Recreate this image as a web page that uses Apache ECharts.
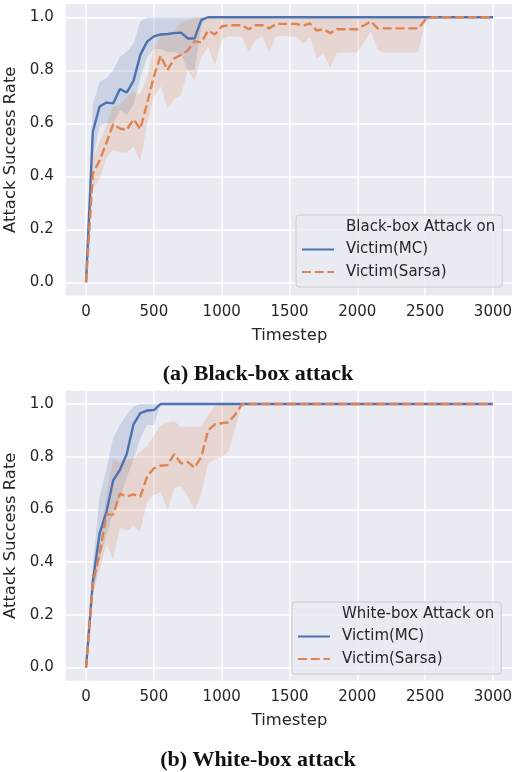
<!DOCTYPE html>
<html>
<head>
<meta charset="utf-8">
<script src="https://cdn.jsdelivr.net/npm/echarts@6/dist/echarts.min.js"></script>
<style>
html,body{margin:0;padding:0;background:#fff;}
#chart{width:512px;height:772px;}
</style>
</head>
<body>
<div id="chart"></div>
<script>
const timesteps = [0,50,100,150,200,250,300,350,400,450,
  500,550,600,650,700,750,800,850,900,950,
  1000,1050,1100,1150,1200,1250,1300,1350,1400,1450,
  1500,1550,1600,1650,1700,1750,1800,1850,1900,1950,
  2000,2050,2100,2150,2200,2250,2300,2350,2400,2450,
  2500,2550,2600,2650,2700,2750,2800,2850,2900,2950,
  3000];

// (a) Black-box attack
const blackMC = [0,0.568,0.663,0.678,0.675,0.729,0.716,0.76,0.858,0.908,
  0.928,0.935,0.937,0.94,0.942,0.92,0.92,0.99,1,1,
  1,1,1,1,1,1,1,1,1,1,
  1,1,1,1,1,1,1,1,1,1,
  1,1,1,1,1,1,1,1,1,1,
  1,1,1,1,1,1,1,1,1,1,
  1];
const blackMCLo = [0,0.46,0.59,0.6,0.6,0.65,0.63,0.67,0.77,0.85,
  0.88,0.88,0.87,0.87,0.86,0.8,0.8,0.97,1,1,
  1,1,1,1,1,1,1,1,1,1,
  1,1,1,1,1,1,1,1,1,1,
  1,1,1,1,1,1,1,1,1,1,
  1,1,1,1,1,1,1,1,1,1,
  1];
const blackMCHi = [0,0.67,0.757,0.77,0.8,0.85,0.87,0.9,0.985,1,
  1,1,1,1,1,1,1,1,1,1,
  1,1,1,1,1,1,1,1,1,1,
  1,1,1,1,1,1,1,1,1,1,
  1,1,1,1,1,1,1,1,1,1,
  1,1,1,1,1,1,1,1,1,1,
  1];
const blackSarsa = [0,0.41,0.46,0.525,0.597,0.58,0.575,0.615,0.578,0.675,
  0.776,0.855,0.80,0.845,0.858,0.875,0.91,0.905,0.95,0.935,
  0.965,0.97,0.97,0.97,0.955,0.97,0.97,0.958,0.975,0.975,
  0.975,0.975,0.969,0.977,0.95,0.955,0.94,0.955,0.955,0.955,
  0.955,0.97,0.984,0.958,0.958,0.958,0.958,0.958,0.958,0.958,
  0.99,1,1,1,1,1,1,1,1,1,
  1];
const blackSarsaLo = [0,0.35,0.39,0.47,0.5,0.49,0.49,0.51,0.455,0.6,
  0.70,0.74,0.657,0.69,0.707,0.80,0.76,0.85,0.89,0.82,
  0.915,0.927,0.927,0.927,0.867,0.915,0.927,0.867,0.927,0.93,
  0.927,0.927,0.9,0.923,0.845,0.86,0.81,0.865,0.867,0.867,
  0.867,0.905,0.946,0.877,0.867,0.867,0.867,0.867,0.867,0.867,
  0.98,1,1,1,1,1,1,1,1,1,
  1];
const blackSarsaHi = [0,0.47,0.53,0.595,0.663,0.67,0.70,0.715,0.71,0.776,
  0.88,0.93,0.94,0.95,0.98,0.99,1,1,1,1,
  1,1,1,1,1,1,1,1,1,1,
  1,1,1,1,1,1,1,1,1,1,
  1,1,1,1,1,1,1,1,1,1,
  1,1,1,1,1,1,1,1,1,1,
  1];

// (b) White-box attack
const whiteMC = [0,0.326,0.509,0.59,0.71,0.75,0.81,0.923,0.965,0.975,
  0.977,1,1,1,1,1,1,1,1,1,
  1,1,1,1,1,1,1,1,1,1,
  1,1,1,1,1,1,1,1,1,1,
  1,1,1,1,1,1,1,1,1,1,
  1,1,1,1,1,1,1,1,1,1,
  1];
const whiteMCLo = [0,0.28,0.41,0.5,0.59,0.64,0.72,0.79,0.87,0.92,
  0.92,1,1,1,1,1,1,1,1,1,
  1,1,1,1,1,1,1,1,1,1,
  1,1,1,1,1,1,1,1,1,1,
  1,1,1,1,1,1,1,1,1,1,
  1,1,1,1,1,1,1,1,1,1,
  1];
const whiteMCHi = [0,0.39,0.65,0.75,0.87,0.92,0.96,0.99,1,1,
  1,1,1,1,1,1,1,1,1,1,
  1,1,1,1,1,1,1,1,1,1,
  1,1,1,1,1,1,1,1,1,1,
  1,1,1,1,1,1,1,1,1,1,
  1,1,1,1,1,1,1,1,1,1,
  1];
const whiteSarsa = [0,0.32,0.43,0.58,0.58,0.66,0.648,0.657,0.648,0.724,
  0.756,0.766,0.768,0.81,0.775,0.78,0.758,0.80,0.90,0.923,
  0.927,0.93,0.96,1,1,1,1,1,1,1,
  1,1,1,1,1,1,1,1,1,1,
  1,1,1,1,1,1,1,1,1,1,
  1,1,1,1,1,1,1,1,1,1,
  1];
const whiteSarsaLo = [0,0.28,0.37,0.47,0.41,0.53,0.52,0.535,0.515,0.63,
  0.654,0.667,0.598,0.68,0.69,0.65,0.598,0.66,0.775,0.79,
  0.80,0.82,0.91,1,1,1,1,1,1,1,
  1,1,1,1,1,1,1,1,1,1,
  1,1,1,1,1,1,1,1,1,1,
  1,1,1,1,1,1,1,1,1,1,
  1];
const whiteSarsaHi = [0,0.36,0.5,0.65,0.79,0.78,0.79,0.79,0.82,0.84,
  0.88,0.92,0.93,0.935,0.914,0.914,0.914,0.914,0.96,0.99,
  1,1,1,1,1,1,1,1,1,1,
  1,1,1,1,1,1,1,1,1,1,
  1,1,1,1,1,1,1,1,1,1,
  1,1,1,1,1,1,1,1,1,1,
  1];

const xTicks = [0,500,1000,1500,2000,2500,3000];
const yTicks = [0,0.2,0.4,0.6,0.8,1.0];
const captions = ['(a) Black-box attack','(b) White-box attack'];
const legendTitles = ['Black-box Attack on','White-box Attack on'];
const seriesNames = ['Victim(MC)','Victim(Sarsa)'];

const BLUE = '#4C72B0', ORANGE = '#DD8452';
const BLUE_BAND = 'rgba(76,114,176,0.2)', ORANGE_BAND = 'rgba(221,132,82,0.2)';
const FONT = 'DejaVu Sans';

function pairs(arr){ return timesteps.map((t,i)=>[t,arr[i]]); }

const panels = [
  {mc:blackMC, mcLo:blackMCLo, mcHi:blackMCHi, sa:blackSarsa, saLo:blackSarsaLo, saHi:blackSarsaHi},
  {mc:whiteMC, mcLo:whiteMCLo, mcHi:whiteMCHi, sa:whiteSarsa, saLo:whiteSarsaLo, saHi:whiteSarsaHi}
];

const grids = [
  {left:65.7, top:4, width:447.6, height:291.5},
  {left:65.7, top:390.8, width:447.6, height:289.9}
];

const xAxes = grids.map((g,i)=>({
  type:'value', gridIndex:i, min:-150, max:3150,
  name:'Timestep', nameLocation:'middle', nameGap:32,
  nameTextStyle:{fontFamily:FONT, fontSize:16.4, color:'#262626'},
  axisLine:{show:false}, axisTick:{show:false, customValues:xTicks},
  axisLabel:{customValues:xTicks, margin:9, fontFamily:FONT, fontSize:15, color:'#262626',
    formatter:v=>String(v)},
  splitLine:{show:true, lineStyle:{color:'#ffffff', width:1.5}}
}));
const yAxes = grids.map((g,i)=>({
  type:'value', gridIndex:i, min:-0.05, max:1.05,
  name:'Attack Success Rate', nameLocation:'middle', nameGap:37,
  nameTextStyle:{fontFamily:FONT, fontSize:16.4, color:'#262626'},
  axisLine:{show:false}, axisTick:{show:false, customValues:yTicks},
  axisLabel:{customValues:yTicks, margin:12, fontFamily:FONT, fontSize:15, color:'#262626',
    formatter:v=>Number(v).toFixed(1)},
  splitLine:{show:true, lineStyle:{color:'#ffffff', width:1.5}}
}));

function bandSeries(i, lo, hi, color){
  return {
    type:'custom', xAxisIndex:i, yAxisIndex:i, silent:true, z:1,
    data: timesteps.map((t,k)=>[t, lo[k], hi[k]]),
    encode:{x:0, y:[1,2]},
    renderItem:(params, api)=>{
      if (params.dataIndex !== 0) return null;
      const upper = timesteps.map((t,k)=>api.coord([t, hi[k]]));
      const lower = timesteps.map((t,k)=>api.coord([t, lo[k]])).reverse();
      return {type:'polygon', shape:{points:upper.concat(lower)}, style:{fill:color, stroke:null}};
    }
  };
}

const series = [];
panels.forEach((p,i)=>{
  series.push(bandSeries(i, p.mcLo, p.mcHi, BLUE_BAND));
  series.push(bandSeries(i, p.saLo, p.saHi, ORANGE_BAND));
  series.push({type:'line', name:legendTitles[i], xAxisIndex:i, yAxisIndex:i, data:[],
    symbol:'none', lineStyle:{opacity:0, color:'rgba(0,0,0,0)'}, itemStyle:{color:'rgba(0,0,0,0)'}});
  series.push({type:'line', name:seriesNames[0], xAxisIndex:i, yAxisIndex:i, data:pairs(p.mc),
    symbol:'none', color:BLUE, lineStyle:{color:BLUE, width:2.4}, z:3});
  series.push({type:'line', name:seriesNames[1], xAxisIndex:i, yAxisIndex:i, data:pairs(p.sa),
    symbol:'none', color:ORANGE, lineStyle:{color:ORANGE, width:2.4, type:[9,3.8]}, z:4});
});

const legendPos = [{left:296, top:215}, {left:292, top:602}];
const legends = legendPos.map((pos,i)=>({
  orient:'vertical', left:pos.left, top:pos.top,
  data:[legendTitles[i], seriesNames[0], seriesNames[1]],
  itemWidth:32, itemHeight:15, itemGap:7.5,
  padding:[4.5,7,7.5,5],
  backgroundColor:'rgba(234,234,242,0.8)', borderColor:'#cccccc', borderWidth:1, borderRadius:3,
  itemStyle:{opacity:0},
  textStyle:{fontFamily:FONT, fontSize:15, color:'#262626', padding:[0,0,0,7]},
  selectedMode:false
}));

const titles = captions.map((c,i)=>({
  text:c, left:258, top:[363,749][i], textAlign:'center', padding:0,
  textStyle:{fontFamily:'Liberation Serif', fontWeight:'bold', fontSize:22, color:'#111'}
}));

const chart = echarts.init(document.getElementById('chart'), null, {renderer:'canvas'});
chart.setOption({
  animation:false,
  backgroundColor:'#ffffff',
  title:titles,
  grid:grids.map(g=>Object.assign({backgroundColor:'#EAEAF2', show:true, borderWidth:0, outerBoundsMode:'none', containLabel:false}, g)),
  xAxis:xAxes, yAxis:yAxes,
  legend:legends,
  series:series
});
</script>
</body>
</html>
